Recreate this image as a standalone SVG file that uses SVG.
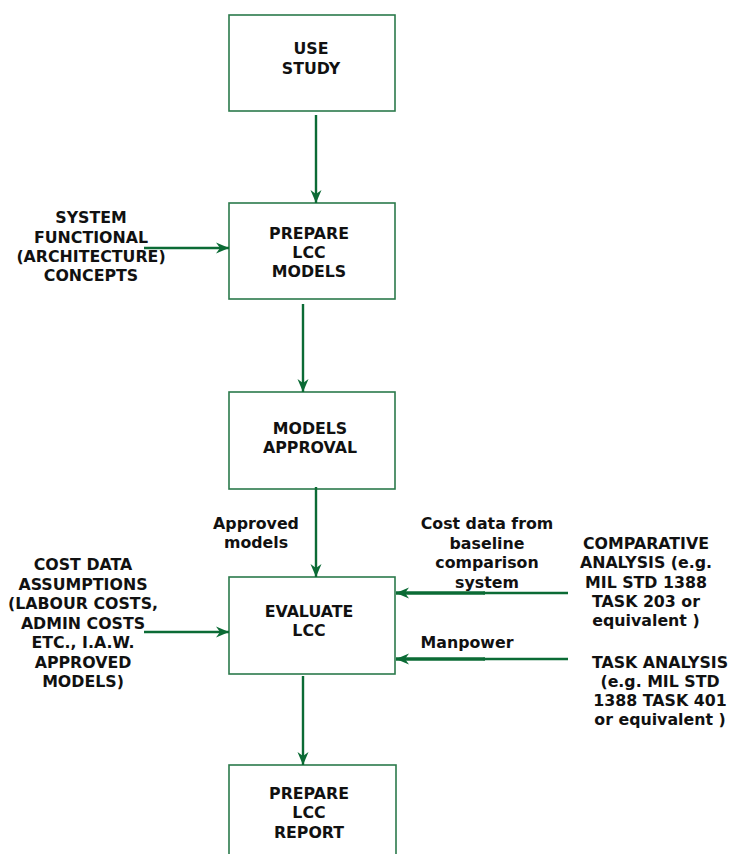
<svg xmlns="http://www.w3.org/2000/svg" width="733" height="854" viewBox="0 0 733 854">
<style>
.box{fill:#fff;stroke:#2b7a4b;stroke-width:1.6}
.t{font-family:"DejaVu Sans",Verdana,sans-serif;font-weight:bold;font-size:15.8px;fill:#111;text-anchor:middle}
.c{stroke:#0b6b35;stroke-width:2.4;fill:none}
.thick{stroke:#0b6b35;stroke-width:3.4;fill:none}
</style>
<defs>
<marker id="ah" markerUnits="userSpaceOnUse" markerWidth="14" markerHeight="12" refX="13" refY="6" orient="auto">
<path d="M0,0.5 L13,6 L0,11.5 L4,6 z" fill="#0b6b35"/>
</marker>
</defs>
<rect width="733" height="854" fill="#fff"/>
<g id="use-study">
<rect class="box" x="229" y="15" width="166" height="96"/>
<text class="t" x="311" y="54">USE</text>
<text class="t" x="311" y="74">STUDY</text>
</g>
<g id="prepare-models">
<rect class="box" x="229" y="203" width="166" height="96"/>
<text class="t" x="309" y="239">PREPARE</text>
<text class="t" x="309" y="258">LCC</text>
<text class="t" x="309" y="277">MODELS</text>
</g>
<g id="models-approval">
<rect class="box" x="229" y="392" width="166" height="97"/>
<text class="t" x="310" y="434">MODELS</text>
<text class="t" x="310" y="453">APPROVAL</text>
</g>
<g id="evaluate-lcc">
<rect class="box" x="229" y="577" width="166" height="97"/>
<text class="t" x="309" y="617">EVALUATE</text>
<text class="t" x="309" y="636">LCC</text>
</g>
<g id="prepare-report">
<rect class="box" x="229" y="765" width="167" height="100"/>
<text class="t" x="309" y="799">PREPARE</text>
<text class="t" x="309" y="818">LCC</text>
<text class="t" x="309" y="838">REPORT</text>
</g>
<g id="system-functional">
<text class="t" x="91" y="223">SYSTEM</text>
<text class="t" x="91" y="243">FUNCTIONAL</text>
<text class="t" x="91" y="262">(ARCHITECTURE)</text>
<text class="t" x="91" y="281">CONCEPTS</text>
</g>
<g id="cost-data-assumptions">
<text class="t" x="83" y="570">COST DATA</text>
<text class="t" x="83" y="590">ASSUMPTIONS</text>
<text class="t" x="83" y="609">(LABOUR COSTS,</text>
<text class="t" x="83" y="629">ADMIN COSTS</text>
<text class="t" x="83" y="648">ETC., I.A.W.</text>
<text class="t" x="83" y="668">APPROVED</text>
<text class="t" x="83" y="687">MODELS)</text>
</g>
<g id="comparative-analysis">
<text class="t" x="646" y="549">COMPARATIVE</text>
<text class="t" x="646" y="568">ANALYSIS (e.g.</text>
<text class="t" x="646" y="588">MIL STD 1388</text>
<text class="t" x="646" y="607">TASK 203 or</text>
<text class="t" x="646" y="626">equivalent )</text>
</g>
<g id="task-analysis">
<text class="t" x="660" y="668">TASK ANALYSIS</text>
<text class="t" x="660" y="687">(e.g. MIL STD</text>
<text class="t" x="660" y="706">1388 TASK 401</text>
<text class="t" x="660" y="725">or equivalent )</text>
</g>
<g id="connectors">
<line class="c" x1="316" y1="115" x2="316" y2="203" marker-end="url(#ah)"/>
<line class="c" x1="144" y1="248" x2="229" y2="248" marker-end="url(#ah)"/>
<line class="c" x1="303" y1="304" x2="303" y2="392" marker-end="url(#ah)"/>
<line class="c" x1="316" y1="487" x2="316" y2="577" marker-end="url(#ah)"/>
<text class="t" x="256" y="529">Approved</text>
<text class="t" x="256" y="548">models</text>
<line class="c" x1="144" y1="632" x2="229" y2="632" marker-end="url(#ah)"/>
<line class="c" x1="568" y1="593" x2="483" y2="593"/>
<line class="thick" x1="485" y1="593" x2="396" y2="593" marker-end="url(#ah)"/>
<text class="t" x="487" y="529">Cost data from</text>
<text class="t" x="487" y="549">baseline</text>
<text class="t" x="487" y="568">comparison</text>
<text class="t" x="487" y="588">system</text>
<line class="c" x1="568" y1="659" x2="483" y2="659"/>
<line class="thick" x1="485" y1="659" x2="396" y2="659" marker-end="url(#ah)"/>
<text class="t" x="467" y="648">Manpower</text>
<line class="c" x1="303" y1="676" x2="303" y2="765" marker-end="url(#ah)"/>
</g>
</svg>
